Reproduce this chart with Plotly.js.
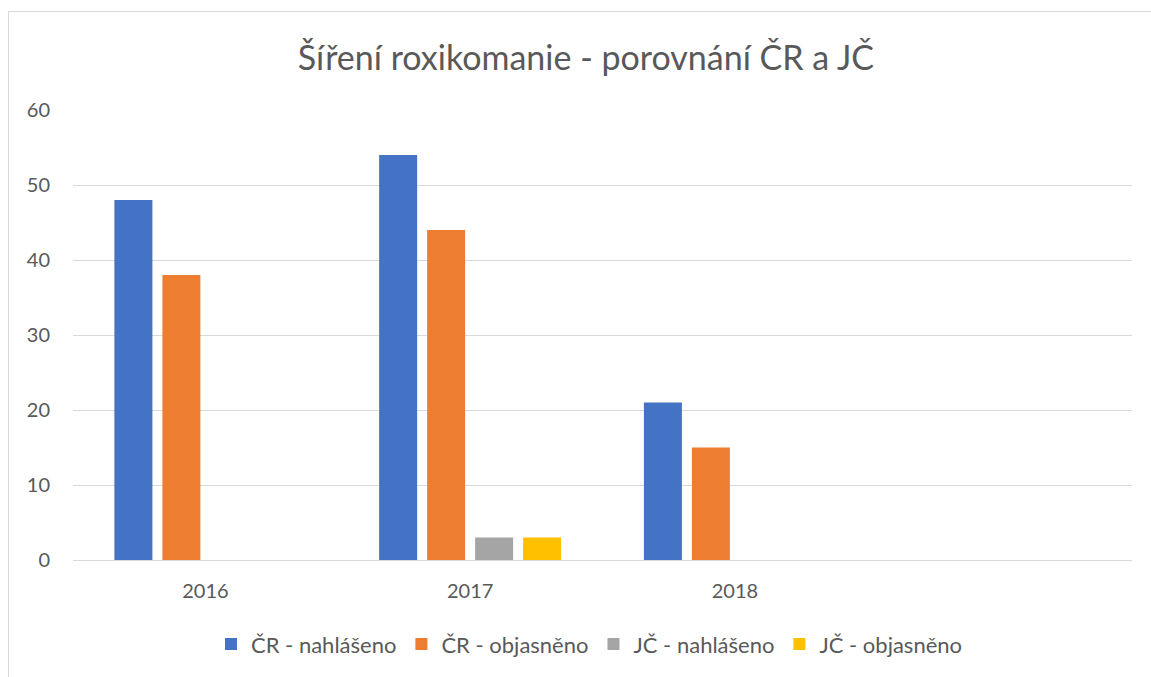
<!DOCTYPE html>
<html>
<head>
<meta charset="utf-8">
<script src="https://cdn.plot.ly/plotly-3.0.1.min.js"></script>
<style>
html,body{margin:0;padding:0;background:#fff;}
#frame{position:absolute;left:8px;top:11px;width:1160px;height:700px;border:1px solid #d9d9d9;box-sizing:border-box;}
#chart{position:absolute;left:0;top:0;width:1151px;height:677px;}
</style>
</head>
<body>
<div id="frame"></div>
<div id="chart"></div>
<script>
const categories = ['2016', '2017', '2018'];
const crNahlaseno = [48, 54, 21];
const crObjasneno = [38, 44, 15];
const jcNahlaseno = [0, 3, 0];
const jcObjasneno = [0, 3, 0];
const seriesNames = ['ČR - nahlášeno', 'ČR - objasněno', 'JČ - nahlášeno', 'JČ - objasněno'];
const seriesColors = ['#4472c4', '#ed7d31', '#a5a5a5', '#ffc000'];
const yTicks = [0, 10, 20, 30, 40, 50, 60];

const values = [crNahlaseno, crObjasneno, jcNahlaseno, jcObjasneno];
const font = 'Lato, "Open Sans", sans-serif';
const data = values.map((v, i) => ({
  type: 'bar',
  x: categories,
  y: v,
  name: seriesNames[i],
  marker: {color: seriesColors[i]},
  hoverinfo: 'x+y+name'
}));

const layout = {
  width: 1151, height: 677,
  paper_bgcolor: 'rgba(0,0,0,0)',
  plot_bgcolor: 'rgba(0,0,0,0)',
  margin: {l: 73, r: 19, t: 110, b: 117},
  title: {text: 'Šíření roxikomanie - porovnání ČR a JČ', font: {family: font, size: 34, color: '#595959'}, x: 0.509, xanchor: 'center', y: 0.914, yanchor: 'middle'},
  barmode: 'group',
  bargap: 0.275,
  bargroupgap: 0.208,
  xaxis: {type: 'category', range: [-0.5, 3.5], showgrid: false, showline: true, linecolor: '#d9d9d9', linewidth: 1, ticks: '', ticklabelstandoff: 13, tickfont: {family: font, size: 20, color: '#595959'}, fixedrange: true},
  yaxis: {range: [0, 60], tickvals: yTicks, ticktext: yTicks.map(String), showgrid: true, gridcolor: '#d9d9d9', gridwidth: 1, zeroline: false, showline: false, ticks: '', ticklen: 0, ticklabelstandoff: 22, tickfont: {family: font, size: 20, color: '#595959'}, fixedrange: true},
  showlegend: true,
  legend: {orientation: 'h', x: 0.4877, xanchor: 'center', y: -0.187, yanchor: 'middle', font: {family: font, size: 22, color: '#595959'}, itemwidth: 30, traceorder: 'normal'}
};

Plotly.newPlot('chart', data, layout, {displayModeBar: false, staticPlot: true});
</script>
</body>
</html>
